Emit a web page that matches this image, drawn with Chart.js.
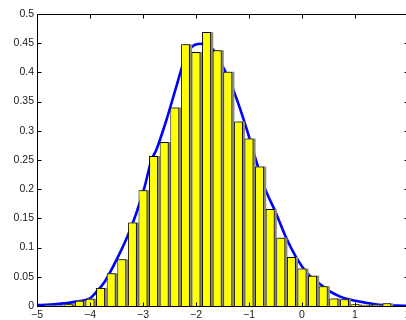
<!DOCTYPE html>
<html>
<head>
<meta charset="utf-8">
<script src="https://cdn.jsdelivr.net/npm/chart.js@4.4.1/dist/chart.umd.min.js"></script>
<style>
  html, body { margin: 0; padding: 0; overflow: hidden; background: #fff; }
  #wrap { position: relative; width: 420px; height: 320px; }
</style>
</head>
<body>
<div id="wrap"><canvas id="c"></canvas></div>
<script>
// Histogram bins (centers) and their heights (density)
const binCenters = [-4.8,-4.6,-4.4,-4.2,-4.0,-3.8,-3.6,-3.4,-3.2,-3.0,-2.8,-2.6,-2.4,-2.2,-2.0,-1.8,-1.6,-1.4,-1.2,-1.0,-0.8,-0.6,-0.4,-0.2,0.0,0.2,0.4,0.6,0.8,1.0,1.2,1.4,1.6];
const binDensity = [0.001,0.001,0.003,0.009,0.0125,0.031,0.056,0.080,0.143,0.198,0.257,0.281,0.340,0.448,0.435,0.469,0.438,0.401,0.316,0.287,0.239,0.166,0.117,0.084,0.064,0.052,0.034,0.013,0.0115,0.003,0.002,0.002,0.0045];

// Fitted curve
const curveX = [-5.0,-4.75,-4.5,-4.25,-4.0,-3.88,-3.72,-3.5,-3.28,-3.13,-2.97,-2.84,-2.75,-2.56,-2.37,-2.22,-2.03,-1.87,-1.72,-1.53,-1.37,-1.18,-1.0,-0.84,-0.71,-0.49,-0.31,-0.12,0.1,0.32,0.51,0.7,0.88,1.2,1.51,1.8,2.0];
const curveY = [0.0015,0.0025,0.0045,0.0075,0.013,0.024,0.042,0.079,0.122,0.158,0.204,0.250,0.267,0.318,0.376,0.421,0.447,0.449,0.444,0.416,0.387,0.341,0.290,0.241,0.204,0.159,0.119,0.085,0.056,0.039,0.026,0.017,0.0115,0.0057,0.0017,0.0008,0.0004];

// Tick labels
const xTickValues = [-5,-4,-3,-2,-1,0,1,2];
const xTickLabels = ['\u22125','\u22124','\u22123','\u22122','\u22121','0','1','2'];
const yTickValues = [0,0.05,0.1,0.15,0.2,0.25,0.3,0.35,0.4,0.45,0.5];
const yTickLabels = ['0','0.05','0.1','0.15','0.2','0.25','0.3','0.35','0.4','0.45','0.5'];

const barPoints = binCenters.map((x, i) => ({x: x, y: binDensity[i]}));
const curvePoints = curveX.map((x, i) => ({x: x, y: curveY[i]}));

const FONT = {family: '"Liberation Sans", Arial, Helvetica, sans-serif', size: 10.5};
const TEXT = '#1a1a1a';

const framePlugin = {
  id: 'frame',
  afterDraw(chart) {
    const ctx = chart.ctx, a = chart.chartArea;
    const xs = chart.scales.x, ys = chart.scales.y;
    const L = Math.round(a.left) + 0.5, R = Math.round(a.right) + 0.5;
    const T = Math.round(a.top) + 0.5, B = Math.round(a.bottom) + 0.5;
    const tl = 4;
    ctx.save();
    ctx.strokeStyle = '#000';
    ctx.lineWidth = 1;
    ctx.beginPath();
    ctx.rect(L, T, R - L, B - T);
    xTickValues.forEach(v => {
      const p = Math.round(xs.getPixelForValue(v)) + 0.5;
      ctx.moveTo(p, B); ctx.lineTo(p, B - tl);
      ctx.moveTo(p, T); ctx.lineTo(p, T + tl);
    });
    yTickValues.forEach(v => {
      const p = Math.round(ys.getPixelForValue(v)) + 0.5;
      ctx.moveTo(L, p); ctx.lineTo(L + tl, p);
      ctx.moveTo(R, p); ctx.lineTo(R - tl, p);
    });
    ctx.stroke();
    ctx.restore();
  }
};

function noPad(s) { s.paddingLeft = 0; s.paddingRight = 0; s.paddingTop = 0; s.paddingBottom = 0; }

new Chart(document.getElementById('c'), {
  type: 'bar',
  data: {
    datasets: [
      {
        type: 'bar',
        data: barPoints,
        xAxisID: 'x',
        backgroundColor: '#ffff00',
        borderColor: '#000000',
        borderWidth: 1,
        barPercentage: 0.85,
        categoryPercentage: 1.0,
        grouped: false,
        order: 1
      },
      {
        type: 'bar',
        data: barPoints,
        xAxisID: 'xShadow',
        backgroundColor: '#8c8c7e',
        borderWidth: 0,
        barPercentage: 0.85,
        categoryPercentage: 1.0,
        grouped: false,
        order: 2
      },
      {
        type: 'line',
        data: curvePoints,
        xAxisID: 'x',
        borderColor: '#0000ff',
        borderWidth: 2.6,
        pointRadius: 0,
        fill: false,
        cubicInterpolationMode: 'monotone',
        order: 3
      }
    ]
  },
  options: {
    responsive: true,
    maintainAspectRatio: false,
    animation: false,
    events: [],
    layout: { padding: { top: 14, right: 12, bottom: 0, left: 0 } },
    plugins: { legend: { display: false }, tooltip: { enabled: false } },
    scales: {
      x: {
        type: 'linear',
        offset: false,
        min: -5, max: 2,
        afterFit: s => { s.height = 14; noPad(s); },
        afterBuildTicks: s => { s.ticks = xTickValues.map(v => ({value: v})); },
        grid: { display: false, drawTicks: false, offset: false },
        border: { display: false },
        ticks: {
          padding: 3,
          maxRotation: 0,
          autoSkip: false,
          font: FONT,
          color: TEXT,
          callback: (v, i) => xTickLabels[i]
        }
      },
      xShadow: {
        type: 'linear',
        display: false,
        offset: false,
        min: -5 - 0.04, max: 2 - 0.04
      },
      y: {
        type: 'linear',
        min: 0, max: 0.5,
        afterFit: s => { s.width = 37; noPad(s); },
        afterBuildTicks: s => { s.ticks = yTickValues.map(v => ({value: v})); },
        grid: { display: false, drawTicks: false },
        border: { display: false },
        ticks: {
          padding: 3,
          autoSkip: false,
          font: FONT,
          color: TEXT,
          callback: (v, i) => yTickLabels[i]
        }
      }
    }
  },
  plugins: [framePlugin]
});
</script>
</body>
</html>
